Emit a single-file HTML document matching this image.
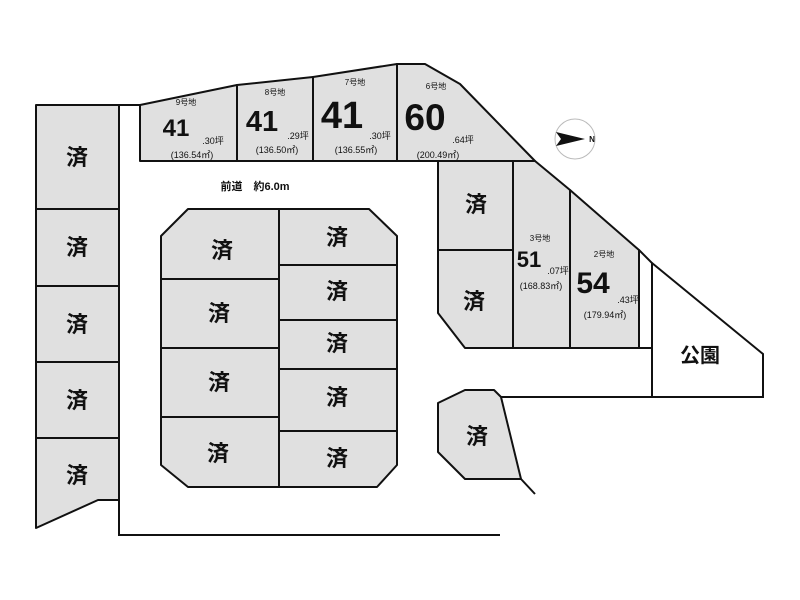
<!DOCTYPE html>
<html><head><meta charset="utf-8"><style>
html,body{margin:0;padding:0;background:#fff;}
svg{display:block}
text{font-family:"Liberation Sans","Noto Sans CJK JP",sans-serif;font-weight:bold;fill:#111;text-anchor:middle;}
.s{font-size:22px}
.sm{font-size:8px;font-weight:normal}
.a{font-size:9px;font-weight:normal}
</style></head><body>
<svg width="800" height="600" viewBox="0 0 800 600" xmlns="http://www.w3.org/2000/svg">
<g fill="#e0e0e0" stroke="#111" stroke-width="2" stroke-linejoin="round">
<!-- left column -->
<rect x="36" y="140" width="83" height="69"/>
<path d="M36 105 H119 V209 H36 Z"/>
<rect x="36" y="209" width="83" height="77"/>
<rect x="36" y="286" width="83" height="76"/>
<rect x="36" y="362" width="83" height="76"/>
<path d="M36 438 H119 V500 H98 L36 528 Z"/>
<!-- top row -->
<path d="M140 105 L237 85 V161 H140 Z"/>
<path d="M237 85 L313 77 V161 H237 Z"/>
<path d="M313 77 L397 64 V161 H313 Z"/>
<path d="M397 64 H425 L460 84 L535 161 H397 Z"/>
<!-- center block -->
<path d="M188 209 H279 V279 H161 V236 Z"/>
<rect x="161" y="279" width="118" height="69"/>
<rect x="161" y="348" width="118" height="69"/>
<path d="M161 417 H279 V487 H188 L161 465 Z"/>
<path d="M279 209 H369 L397 236 V265 H279 Z"/>
<rect x="279" y="265" width="118" height="55"/>
<rect x="279" y="320" width="118" height="49"/>
<rect x="279" y="369" width="118" height="62"/>
<path d="M279 431 H397 V465 L377 487 H279 Z"/>
<!-- right block -->
<rect x="438" y="161" width="75" height="89"/>
<path d="M438 250 H513 V348 H465 L438 313 Z"/>
<path d="M513 161 H535 L570 190 V348 H513 Z"/>
<path d="M570 190 L639 250 V348 H570 Z"/>
<!-- lower -->
<path d="M438 403 L465 390 H494 L501 397 L521 479 H465 L438 452 Z"/>
</g>
<g fill="none" stroke="#111" stroke-width="2">
<path d="M119 105 H140 M119 161 V535 H500"/>
<path d="M639 250 L652 263 V397 M639 348 H652"/>
<path d="M652 263 L763 354 V397 H501"/>
<path d="M521 479 L535 494"/>
</g>
<!-- compass -->
<circle cx="575" cy="139" r="20" fill="none" stroke="#bbb" stroke-width="1"/>
<path d="M556 132 L585 139 L556 146 L561 139 Z" fill="#111"/>
<text x="592" y="142" style="font-size:8px">N</text>

<text x="255" y="190" style="font-size:11px">前道　約6.0m</text>

<text class="sm" x="186" y="105">9号地</text>
<text x="176" y="136" style="font-size:24px">41</text>
<text class="a" x="213" y="144">.30坪</text>
<text class="a" x="192" y="158">(136.54㎡)</text>

<text class="sm" x="275" y="95">8号地</text>
<text x="262" y="131" style="font-size:29px">41</text>
<text class="a" x="298" y="139">.29坪</text>
<text class="a" x="277" y="153">(136.50㎡)</text>

<text class="sm" x="355" y="85">7号地</text>
<text x="342" y="128" style="font-size:38px">41</text>
<text class="a" x="380" y="139">.30坪</text>
<text class="a" x="356" y="153">(136.55㎡)</text>

<text class="sm" x="436" y="89">6号地</text>
<text x="425" y="130" style="font-size:37px">60</text>
<text class="a" x="463" y="143">.64坪</text>
<text class="a" x="438" y="158">(200.49㎡)</text>

<text class="sm" x="540" y="241">3号地</text>
<text x="529" y="267" style="font-size:22px">51</text>
<text class="a" x="558" y="274">.07坪</text>
<text class="a" x="541" y="289">(168.83㎡)</text>

<text class="sm" x="604" y="257">2号地</text>
<text x="593" y="293" style="font-size:30px">54</text>
<text class="a" x="628" y="303">.43坪</text>
<text class="a" x="605" y="318">(179.94㎡)</text>

<text x="700" y="362" style="font-size:20px">公園</text>

<g class="s">
<text class="s" x="77" y="165">済</text>
<text class="s" x="77" y="255">済</text>
<text class="s" x="77" y="332">済</text>
<text class="s" x="77" y="408">済</text>
<text class="s" x="77" y="483">済</text>
<text class="s" x="222" y="258">済</text>
<text class="s" x="219" y="321">済</text>
<text class="s" x="219" y="390">済</text>
<text class="s" x="218" y="461">済</text>
<text class="s" x="337" y="245">済</text>
<text class="s" x="337" y="299">済</text>
<text class="s" x="337" y="351">済</text>
<text class="s" x="337" y="405">済</text>
<text class="s" x="337" y="466">済</text>
<text class="s" x="476" y="212">済</text>
<text class="s" x="474" y="309">済</text>
<text class="s" x="477" y="444">済</text>
</g>
</svg>
</body></html>
